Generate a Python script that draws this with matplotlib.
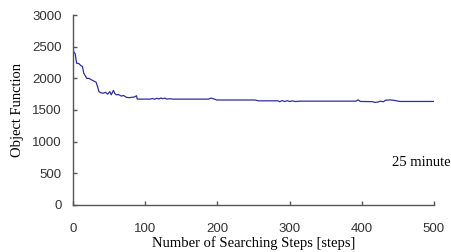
import matplotlib
matplotlib.use("Agg")
import matplotlib.pyplot as plt

# ── Data ─────────────────────────────────────────────────────────────────────
steps = [0, 1, 3, 5, 8, 11, 13, 15, 19, 22, 26, 30, 32, 34, 36, 38, 42, 45,
         48, 51, 53, 56, 58, 60, 63, 67, 70, 74, 78, 81, 85, 88, 89, 95, 107,
         110, 113, 116, 119, 122, 124, 127, 130, 134, 139, 150, 188, 191, 194,
         197, 199, 252, 257, 284, 286, 290, 293, 297, 300, 304, 308, 315, 380,
         392, 395, 398, 415, 418, 422, 426, 430, 433, 440, 446, 453, 500]
objective = [2480, 2420, 2390, 2240, 2235, 2200, 2190, 2080, 2000, 2000, 1975,
             1950, 1940, 1870, 1790, 1775, 1765, 1780, 1750, 1790, 1740, 1810,
             1760, 1740, 1745, 1720, 1730, 1700, 1695, 1700, 1705, 1725, 1672,
             1672, 1672, 1682, 1670, 1685, 1675, 1690, 1678, 1688, 1672, 1678,
             1672, 1672, 1672, 1688, 1680, 1668, 1658, 1658, 1645, 1645, 1632,
             1648, 1635, 1646, 1634, 1645, 1634, 1640, 1640, 1640, 1660, 1635,
             1632, 1620, 1625, 1640, 1630, 1655, 1660, 1650, 1635, 1635]
x_ticks = [0, 100, 200, 300, 400, 500]
y_ticks = [0, 500, 1000, 1500, 2000, 2500, 3000]

# ── Plot ─────────────────────────────────────────────────────────────────────
fig = plt.figure(figsize=(4.52, 2.52), dpi=100)
ax = fig.add_axes([0.1615, 0.187, 0.7985, 0.753])

ax.plot(steps, objective, color="#2e2e9c", linewidth=0.9)

ax.set_xlim(0, 500)
ax.set_ylim(0, 3000)
ax.set_xticks(x_ticks)
ax.set_yticks(y_ticks)

for side in ["top", "right"]:
    ax.spines[side].set_visible(False)
for side in ["left", "bottom"]:
    ax.spines[side].set_color("#555555")
    ax.spines[side].set_linewidth(1.0)

ax.tick_params(direction="in", length=3, width=1.0, color="#555555",
               labelsize=9.5, labelcolor="#333333")
ax.tick_params(axis="x", pad=13)
ax.tick_params(axis="y", pad=8)
for lbl in ax.get_xticklabels() + ax.get_yticklabels():
    lbl.set_fontfamily("Liberation Sans")

serif = "Liberation Serif"
ax.set_xlabel("Number of Searching Steps [steps]", fontfamily=serif,
              fontsize=10.5, labelpad=1)
ax.set_ylabel("Object Function", fontfamily=serif, fontsize=10.5, labelpad=6)
fig.text(451 / 452, 1 - 163 / 252, "25 minute", fontfamily=serif,
         fontsize=10.5, ha="right", va="center")

fig.savefig("out.png", dpi=100)
